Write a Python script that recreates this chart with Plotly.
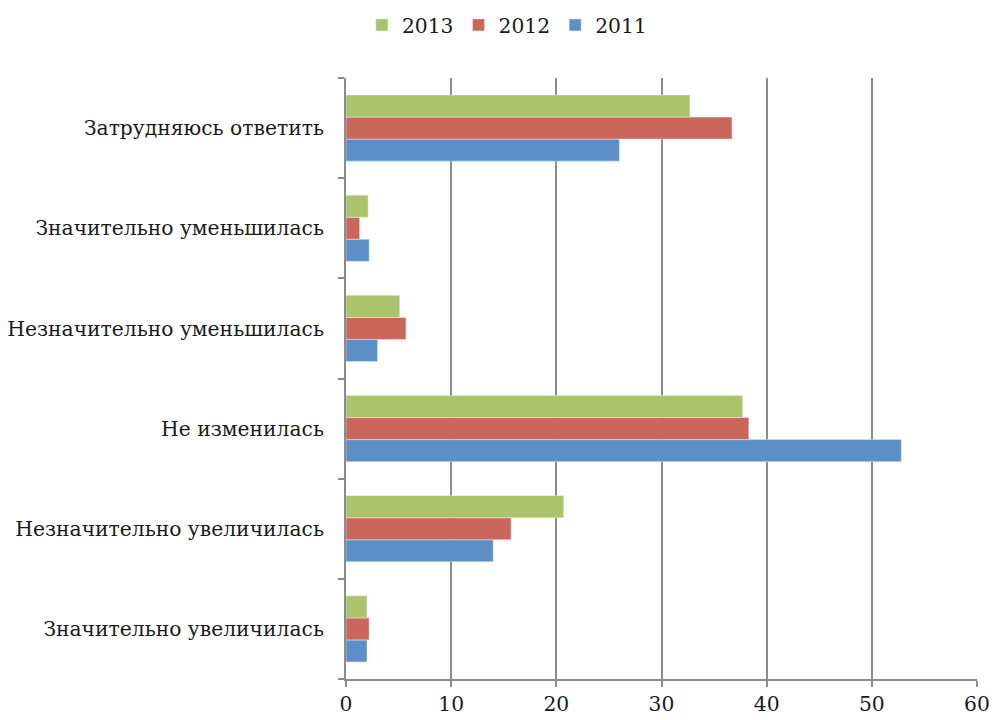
import plotly.graph_objects as go

# categories, bottom to top
categories = [
    "Значительно увеличилась",
    "Незначительно увеличилась",
    "Не изменилась",
    "Незначительно уменьшилась",
    "Значительно уменьшилась",
    "Затрудняюсь ответить",
]
values_2011 = [2.0, 14.0, 52.8, 3.0, 2.2, 26.0]
values_2012 = [2.2, 15.7, 38.3, 5.7, 1.3, 36.7]
values_2013 = [2.0, 20.7, 37.7, 5.1, 2.1, 32.7]
x_ticks = [0, 10, 20, 30, 40, 50, 60]

font_family = "DejaVu Serif, Liberation Serif, serif"

fig = go.Figure()
fig.add_trace(go.Bar(name="2011", y=categories, x=values_2011, orientation="h",
                     marker_color="#5B8FC5"))
fig.add_trace(go.Bar(name="2012", y=categories, x=values_2012, orientation="h",
                     marker_color="#CB665B"))
fig.add_trace(go.Bar(name="2013", y=categories, x=values_2013, orientation="h",
                     marker_color="#ABC36A"))

fig.update_layout(
    width=992, height=720,
    barmode="group", bargap=0.34, bargroupgap=0,
    plot_bgcolor="white", paper_bgcolor="white",
    font=dict(family=font_family, size=20.3, color="#1a1a1a"),
    margin=dict(l=346, r=15, t=78, b=41, autoexpand=False),
    legend=dict(orientation="h", traceorder="reversed",
                x=0.255, xanchor="center", xref="paper",
                y=0.965, yanchor="middle", yref="container",
                font=dict(size=20.3), itemwidth=30),
    xaxis=dict(range=[0, 60], tickvals=x_ticks, showgrid=True,
               gridcolor="#8c8c8c", gridwidth=2,
               showline=True, linecolor="#8c8c8c", linewidth=2,
               ticks="outside", ticklen=6, tickcolor="#8c8c8c", tickwidth=2,
               zeroline=False),
    yaxis=dict(showline=True, linecolor="#8c8c8c", linewidth=2,
               ticks="outside", ticklen=6, tickcolor="#8c8c8c", tickwidth=2,
               tickson="boundaries", ticklabelstandoff=16),
)

# drop the default page margin so the 992x720 figure fills the window
fig.write_html("out.html", config={"displayModeBar": False},
               post_script="document.body.style.margin='0';")
